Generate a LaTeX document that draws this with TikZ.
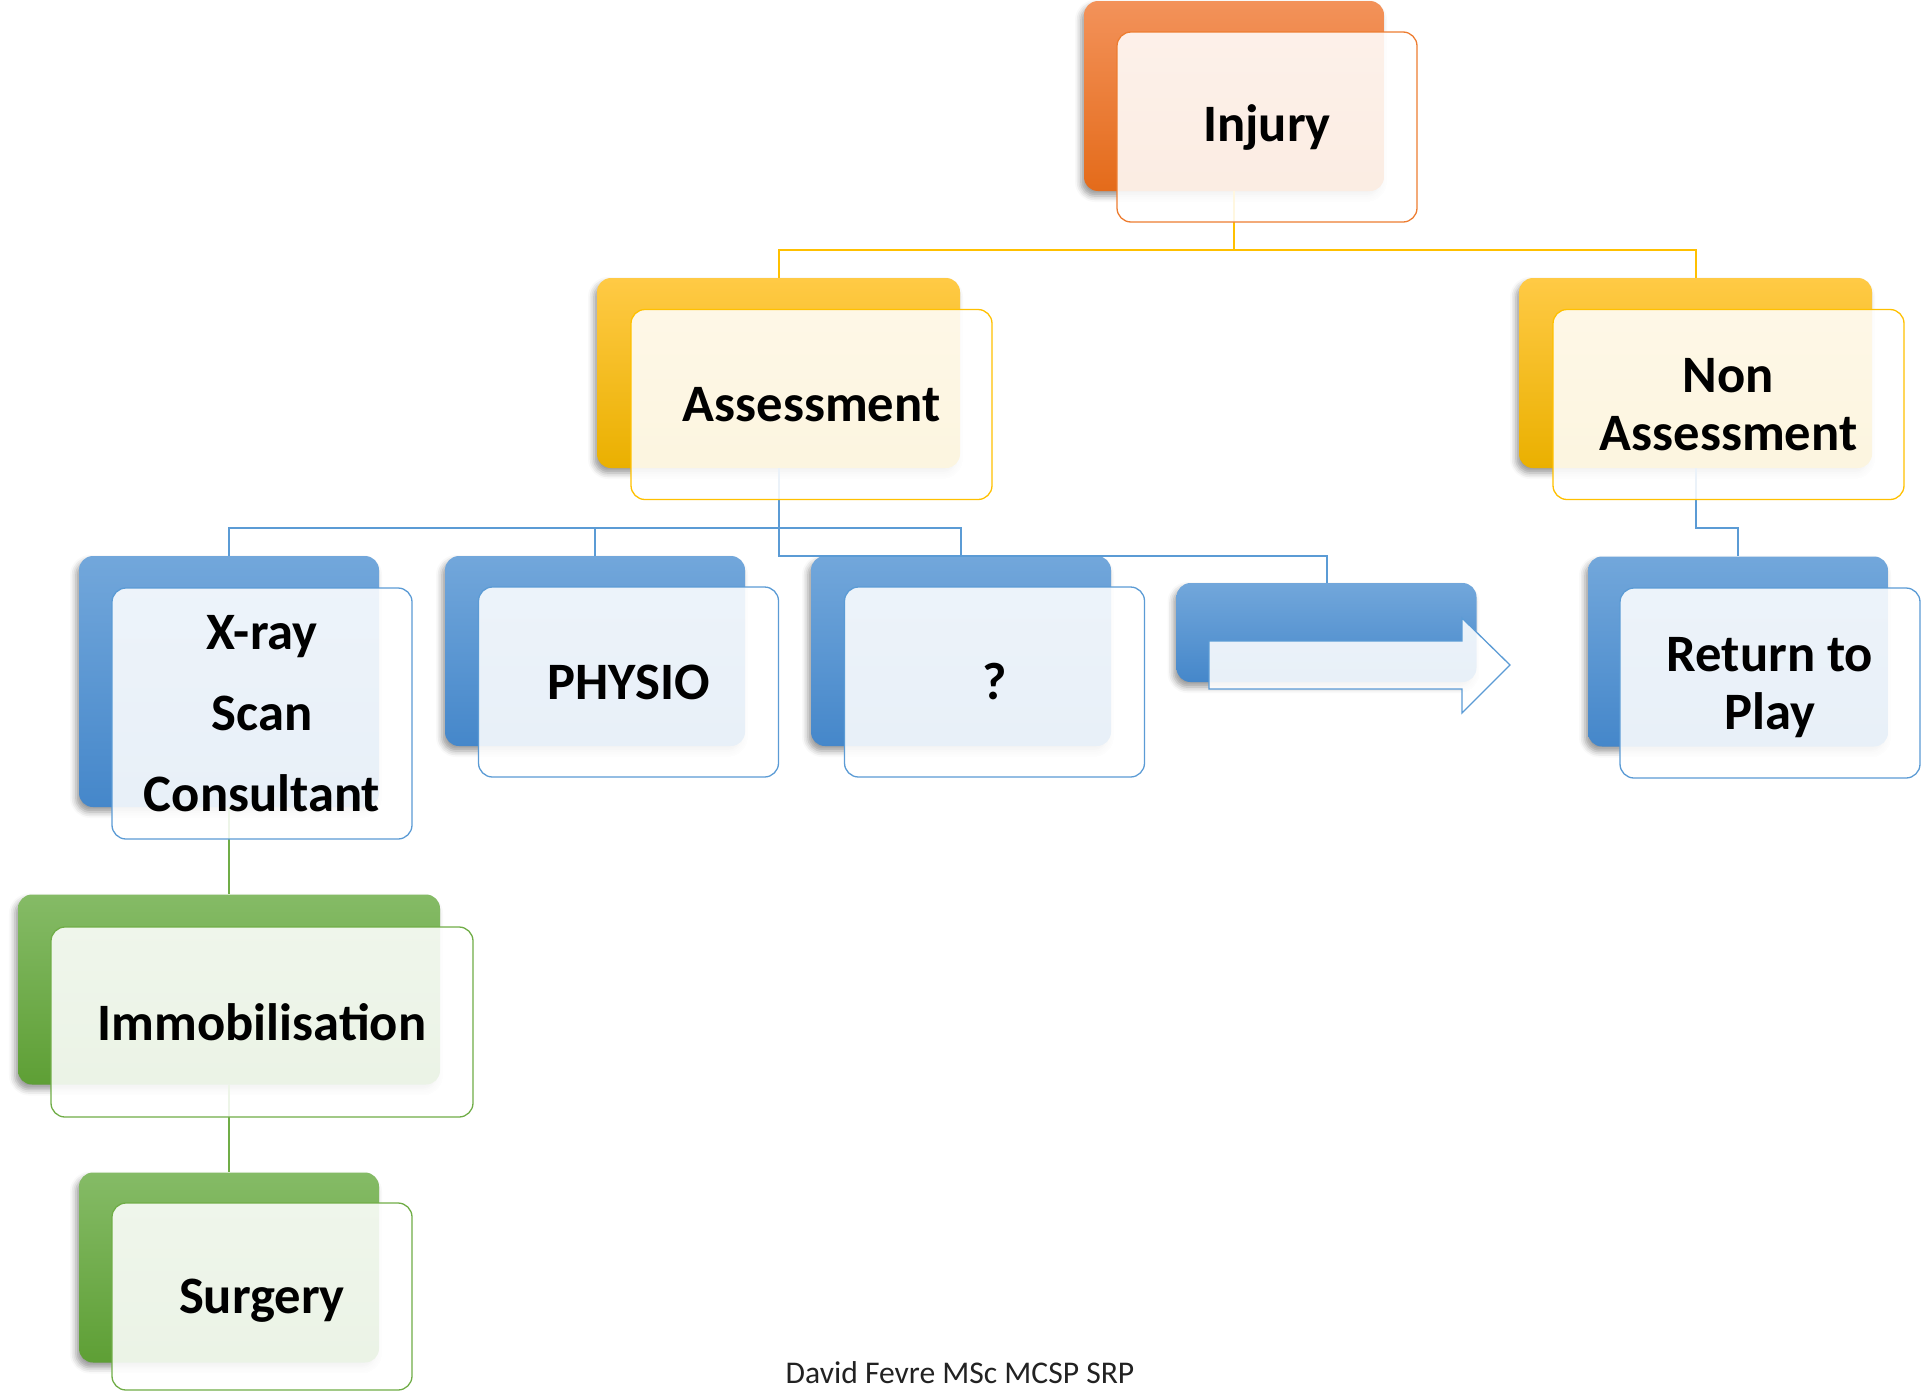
\documentclass[tikz,border=0pt]{standalone}
\usepackage{fontspec}
\setmainfont{Carlito}
\usetikzlibrary{shadows.blur}

\definecolor{orTop}{HTML}{F3925A}
\definecolor{orBot}{HTML}{E46B1A}
\definecolor{orLine}{HTML}{ED7D31}
\definecolor{ylTop}{HTML}{FFCA45}
\definecolor{ylMid}{HTML}{FFC000}
\definecolor{ylBot}{HTML}{EAB000}
\definecolor{ylLine}{HTML}{FFC000}
\definecolor{blTop}{HTML}{72A7DB}
\definecolor{blBot}{HTML}{4587CA}
\definecolor{blLine}{HTML}{5B9BD5}
\definecolor{grTop}{HTML}{85BB66}
\definecolor{grBot}{HTML}{5E9F35}
\definecolor{grLine}{HTML}{70AD47}
\definecolor{credit}{HTML}{222222}

\tikzset{
  backbox/.style={rounded corners=14pt, inner sep=0pt, minimum width=300pt,
    minimum height=190pt,
    blur shadow={shadow xshift=-3pt, shadow yshift=-5pt,
      shadow blur radius=6pt, shadow opacity=40}},
  orback/.style={backbox, top color=orTop, bottom color=orBot},
  ylback/.style={backbox, top color=ylTop, middle color=ylMid, bottom color=ylBot},
  blback/.style={backbox, top color=blTop, bottom color=blBot},
  grback/.style={backbox, top color=grTop, bottom color=grBot},
  frontbox/.style={rounded corners=14pt, inner sep=0pt, minimum width=300pt,
    minimum height=190pt, fill=white, fill opacity=0.88, text opacity=1,
    line width=1.3pt, align=center,
    font=\fontsize{52.6}{58}\selectfont\bfseries},
  orfront/.style={frontbox, draw=orLine},
  ylfront/.style={frontbox, draw=ylLine},
  blfront/.style={frontbox, draw=blLine},
  grfront/.style={frontbox, draw=grLine},
  link/.style={line width=2pt},
}

\begin{document}
\begin{tikzpicture}[x=1pt,y=-1pt]
\useasboundingbox (0,0) rectangle (1921,1392);

% coloured back plates
\node[orback] (injB) at (1234,96) {};
\node[ylback, minimum width=363pt] (assB) at (778.5,373) {};
\node[ylback, minimum width=353pt] (nonB) at (1695.5,373) {};
\node[blback, minimum height=251pt] (xrB) at (229,681.5) {};
\node[blback] (phyB) at (595,651) {};
\node[blback] (qB) at (961,651) {};
\node[blback, minimum height=99pt] (arrB) at (1326.5,632.5) {};
\node[blback] (retB) at (1738,651.5) {};
\node[grback, minimum width=422pt] (imB) at (229,989.5) {};
\node[grback] (suB) at (229,1267.5) {};

% bus lines of the tree
\coordinate (busTop) at (0,250);
\coordinate (busMid) at (0,528);
\coordinate (busArr) at (0,556);

% connectors
\draw[link, ylLine] (injB.south) -- (injB.south |- busTop) -| (assB.north);
\draw[link, ylLine] (injB.south |- busTop) -| (nonB.north);
\draw[link, blLine] (assB.south) -- (assB.south |- busMid) -| (xrB.north);
\draw[link, blLine] (assB.south |- busMid) -| (phyB.north);
\draw[link, blLine] (assB.south |- busMid) -| (qB.north);
\draw[link, blLine] (assB.south |- busMid) -- (assB.south |- busArr) -| (arrB.north);
\draw[link, blLine] (nonB.south) -- (nonB.south |- busMid) -| (retB.north);
\draw[link, grLine] (xrB.south) -- (imB.north);
\draw[link, grLine] (imB.south) -- (suB.north);

% translucent front cards with the labels
\node[orfront] (inj) at (1267,127) {Injury};
\node[ylfront, minimum width=361pt] (ass) at (811.5,404.5) {Assessment};
\node[ylfront, minimum width=351pt] (non) at (1728.5,404.5) {Non\\Assessment};
\node[blfront, minimum height=251pt,
      font=\fontsize{52.6}{81}\selectfont\bfseries] (xr) at (262,713.5)
      {X-ray\\Scan\\Consultant};
\node[blfront] (phy) at (628.5,682) {PHYSIO};
\node[blfront] (q) at (994.5,682) {?};
\node[blfront, text depth=0pt] (ret) at (1770,683) {Return to\\Play};
\node[grfront, minimum width=422pt] (im) at (262,1022) {Immobilisation};
\node[grfront, minimum height=187pt, text depth=0pt] (su) at (262,1296.5) {Surgery};

% open arrow over the last blue plate
\draw[blLine, line width=1.3pt, fill=white, fill opacity=0.88]
  (1209,641) -- (1462,641) -- (1462,618) -- (1510,665) -- (1462,713)
  -- (1462,689) -- (1209,689) -- cycle;

% author credit
\node[text=credit, font=\fontsize{31.6}{36}\selectfont] (creditline)
  at (960,1373) {David Fevre MSc MCSP SRP};
\end{tikzpicture}
\end{document}
